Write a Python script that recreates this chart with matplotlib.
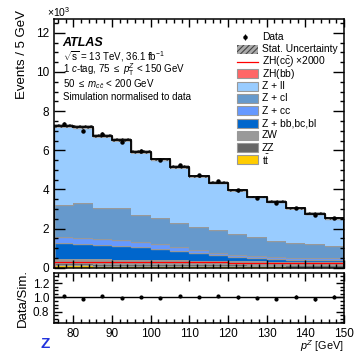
import numpy as np
import matplotlib
matplotlib.use("Agg")
import matplotlib.pyplot as plt
from matplotlib.ticker import MultipleLocator
from matplotlib.patches import Rectangle

plt.rcParams['font.family'] = ['Liberation Sans', 'DejaVu Sans']
plt.rcParams['mathtext.fontset'] = 'custom'
plt.rcParams['mathtext.rm'] = 'Liberation Sans'
plt.rcParams['mathtext.it'] = 'Liberation Sans:italic'
plt.rcParams['hatch.color'] = '#444444'
plt.rcParams['hatch.linewidth'] = 0.8

# bin edges in GeV (pT^Z), events in units of 10^3
edges = np.arange(75, 151, 5)

ttbar = [0.13, 0.13, 0.12, 0.12, 0.11, 0.11, 0.10, 0.10, 0.09, 0.09, 0.08, 0.08, 0.07, 0.07, 0.07]
zz = [0.10, 0.10, 0.10, 0.10, 0.10, 0.09, 0.09, 0.09, 0.09, 0.09, 0.08, 0.08, 0.08, 0.08, 0.08]
zw = [0.22, 0.21, 0.21, 0.20, 0.20, 0.19, 0.19, 0.18, 0.18, 0.17, 0.17, 0.16, 0.16, 0.15, 0.15]
z_bb = [0.83, 0.77, 0.73, 0.70, 0.65, 0.59, 0.50, 0.38, 0.29, 0.22, 0.17, 0.13, 0.11, 0.10, 0.08]
z_cc = [0.30, 0.33, 0.33, 0.29, 0.27, 0.24, 0.20, 0.15, 0.13, 0.11, 0.12, 0.11, 0.10, 0.10, 0.10]
z_cl = [1.62, 1.78, 1.59, 1.62, 1.36, 1.35, 1.22, 1.20, 1.15, 1.07, 0.94, 0.82, 0.75, 0.72, 0.64]
z_ll = [4.03, 3.84, 3.64, 3.48, 3.21, 2.96, 2.84, 2.57, 2.40, 2.20, 2.05, 1.98, 1.76, 1.54, 1.39]
zh_bb = [0.01, 0.01, 0.01, 0.01, 0.01, 0.01, 0.01, 0.01, 0.01, 0.01, 0.01, 0.01, 0.01, 0.01, 0.01]
zh_cc_x2000 = [0.29, 0.29, 0.29, 0.29, 0.29, 0.28, 0.28, 0.28, 0.28, 0.27, 0.27, 0.27, 0.27, 0.27, 0.27]
data = [7.34, 7.01, 6.83, 6.43, 5.97, 5.52, 5.25, 4.73, 4.42, 3.96, 3.59, 3.31, 3.07, 2.69, 2.55]
data_err = [0.085, 0.084, 0.083, 0.080, 0.077, 0.074, 0.072, 0.069, 0.066, 0.063, 0.060, 0.058, 0.055, 0.052, 0.050]

components = [
    ("t$\\bar{\\rm t}$", ttbar, "#ffcc00"),
    ("ZZ", zz, "#666666"),
    ("ZW", zw, "#999999"),
    ("Z + bb,bc,bl", z_bb, "#0066cc"),
    ("Z + cc", z_cc, "#6699ff"),
    ("Z + cl", z_cl, "#6699cc"),
    ("Z + ll", z_ll, "#99ccff"),
    ("ZH(b$\\bar{\\rm b}$)", zh_bb, "#ff6666"),
]

fig = plt.figure(figsize=(3.55, 3.52), dpi=100)
ax = fig.add_axes([0.152, 0.239, 0.817, 0.707])
rax = fig.add_axes([0.152, 0.082, 0.817, 0.142])

centers = 0.5 * (edges[:-1] + edges[1:])
bottom = np.zeros(len(centers))
for name, vals, col in components:
    vals = np.array(vals)
    ax.stairs(bottom + vals, edges, baseline=bottom, fill=True, color=col, lw=0)
    ax.stairs(bottom + vals, edges, color="#999999", lw=1.0)
    bottom = bottom + vals
total = bottom

# stat. uncertainty band
stat = np.sqrt(total * 1000) / 1000 * 1.2
ax.stairs(total + stat, edges, baseline=total - stat, fill=True, facecolor="#aaaaaa",
          edgecolor="#444444", hatch="//////", lw=0)
ax.stairs(total, edges, color="black", lw=1.3)
ax.stairs(zh_cc_x2000, edges, color="red", lw=0.9)
ax.errorbar(centers, data, yerr=data_err, fmt="o", color="black", ms=2.2, lw=0.8)

ax.set_xlim(75, 150)
ax.set_ylim(0, 12.7)
ax.set_xticklabels([])
ax.set_ylabel("Events / 5 GeV", fontsize=9.5, loc="top")
ax.yaxis.set_label_coords(-0.088, 1.035)
ax.text(-0.024, 1.0, "$\\times$10$^3$", transform=ax.transAxes, fontsize=7.5,
        ha="left", va="bottom")

for a in (ax, rax):
    a.xaxis.set_major_locator(MultipleLocator(10))
    a.xaxis.set_minor_locator(MultipleLocator(2))
    a.tick_params(which="both", direction="in", top=True, right=True, labelsize=8.5,
                  width=1.0)
    a.tick_params(which="major", length=6)
    a.tick_params(which="minor", length=3)
    for s in a.spines.values():
        s.set_linewidth(1.1)
ax.yaxis.set_major_locator(MultipleLocator(2))
ax.yaxis.set_minor_locator(MultipleLocator(0.5))
ax.tick_params(axis="y", which="major", length=8)

# ratio panel
ratio = np.array(data) / total
rax.errorbar(centers, ratio, yerr=np.array(data_err) / total, fmt="o", color="black",
             ms=2.0, lw=0.8)
rax.axhline(1.0, color="black", lw=1.0)
rax.set_xlim(75, 150)
rax.set_ylim(0.64, 1.34)
rax.yaxis.set_major_locator(MultipleLocator(0.2))
rax.yaxis.set_minor_locator(MultipleLocator(0.05))
rax.set_yticks([0.8, 1.0, 1.2])
rax.set_yticklabels(["0.8", "1.0", "1.2"])
rax.set_ylabel("Data/Sim.", fontsize=9.5)
rax.yaxis.set_label_coords(-0.088, 0.5)
rax.set_xlabel("$p^{Z}$ [GeV]", fontsize=7.8, loc="right")
rax.xaxis.set_label_coords(1.0, -0.295)

# annotations
tx = 0.03
lines = [
    "$\\sqrt{\\rm s}$ = 13 TeV, 36.1 fb$^{-1}$",
    "1 $c$-tag, 75 $\\leq$ $p_{\\rm T}^{Z}$ < 150 GeV",
    "50 $\\leq$ $m_{c\\bar{c}}$ < 200 GeV",
    "Simulation normalised to data",
]
ax.text(tx, 0.902, "ATLAS", transform=ax.transAxes, fontsize=9, fontweight="bold",
        style="italic", va="center")
for i, t in enumerate(lines):
    ax.text(tx, 0.85 - i * 0.055, t, transform=ax.transAxes, fontsize=7.0, va="center")

# legend drawn entry by entry
lx0, lw_, lh = 0.631, 0.072, 0.036
ly0, dy = (268 - 37) / 249, 12.3 / 249
ltx = 0.717
legend_rows = [("data", "Data", None), ("stat", "Stat. Uncertainty", None),
               ("line", "ZH(c$\\bar{\\rm c}$) $\\times$2000", "red")]
for name, vals, col in reversed(components):
    legend_rows.append(("box", name, col))
for i, (kind, label, col) in enumerate(legend_rows):
    yc = ly0 - i * dy
    if kind == "data":
        ax.errorbar([lx0 + 0.028], [yc], yerr=[0.012], fmt="o", color="black", ms=2.2,
                    lw=0.8, transform=ax.transAxes, clip_on=False)
    elif kind == "stat":
        ax.add_patch(Rectangle((lx0, yc - lh / 2), lw_, lh, transform=ax.transAxes,
                               facecolor="#aaaaaa", edgecolor="#444444", hatch="//////", lw=0))
    elif kind == "line":
        ax.plot([lx0, lx0 + lw_], [yc, yc], color=col, lw=0.9, transform=ax.transAxes)
    else:
        ax.add_patch(Rectangle((lx0, yc - lh / 2), lw_, lh, transform=ax.transAxes,
                               facecolor=col, edgecolor="#999999", lw=0.8))
    ax.text(ltx, yc, label, transform=ax.transAxes, fontsize=7.4, va="center")

fig.text(0.113, 0.003, "Z", color="#2233dd", fontsize=11, fontweight="bold",
         va="bottom")

fig.savefig("out.png", dpi=100)
